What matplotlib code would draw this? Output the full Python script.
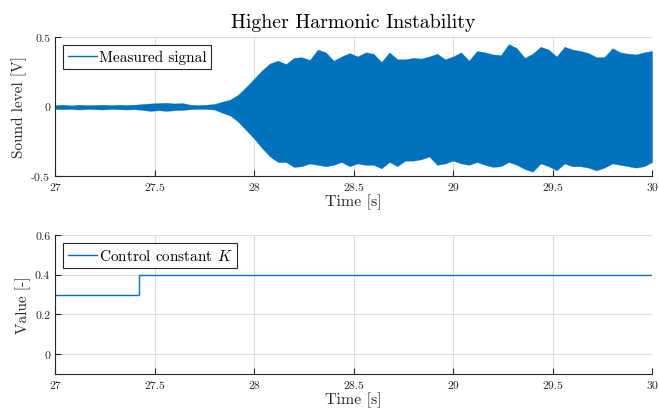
import numpy as np
import matplotlib
matplotlib.use("Agg")
import matplotlib.pyplot as plt

plt.rcParams['font.family'] = 'serif'
plt.rcParams['font.serif'] = ['cmr10']
plt.rcParams['mathtext.fontset'] = 'cm'
plt.rcParams['axes.unicode_minus'] = False

# measured sound signal, envelope (max / min per window) every 0.04 s
sig_t = [27.00, 27.04, 27.08, 27.12, 27.16, 27.20, 27.24, 27.28, 27.32, 27.36,
         27.40, 27.44, 27.48, 27.52, 27.56, 27.60, 27.64, 27.68, 27.72, 27.76,
         27.80, 27.84, 27.88, 27.92, 27.96, 28.00, 28.04, 28.08, 28.12, 28.16,
         28.20, 28.24, 28.28, 28.32, 28.36, 28.40, 28.44, 28.48, 28.52, 28.56,
         28.60, 28.64, 28.68, 28.72, 28.76, 28.80, 28.84, 28.88, 28.92, 28.96,
         29.00, 29.04, 29.08, 29.12, 29.16, 29.20, 29.24, 29.28, 29.32, 29.36,
         29.40, 29.44, 29.48, 29.52, 29.56, 29.60, 29.64, 29.68, 29.72, 29.76,
         29.80, 29.84, 29.88, 29.92, 29.96, 30.00]
sig_hi = [0.010, 0.013, 0.008, 0.013, 0.010, 0.011, 0.013, 0.010, 0.013, 0.011,
          0.013, 0.018, 0.022, 0.025, 0.027, 0.022, 0.025, 0.013, 0.010, 0.013,
          0.018, 0.035, 0.050, 0.085, 0.140, 0.200, 0.260, 0.310, 0.330, 0.305,
          0.350, 0.355, 0.335, 0.410, 0.390, 0.330, 0.360, 0.385, 0.360, 0.390,
          0.380, 0.320, 0.390, 0.340, 0.340, 0.350, 0.345, 0.360, 0.380, 0.340,
          0.360, 0.390, 0.330, 0.400, 0.390, 0.375, 0.370, 0.450, 0.420, 0.350,
          0.380, 0.430, 0.410, 0.360, 0.430, 0.410, 0.400, 0.385, 0.355, 0.355,
          0.420, 0.390, 0.380, 0.375, 0.390, 0.400]
sig_lo = [-0.018, -0.020, -0.018, -0.022, -0.018, -0.020, -0.022, -0.018, -0.020, -0.022,
          -0.020, -0.025, -0.032, -0.027, -0.032, -0.027, -0.025, -0.020, -0.018, -0.018,
          -0.022, -0.045, -0.065, -0.110, -0.170, -0.230, -0.300, -0.360, -0.400, -0.400,
          -0.435, -0.430, -0.410, -0.420, -0.430, -0.420, -0.400, -0.430, -0.410, -0.420,
          -0.420, -0.445, -0.400, -0.430, -0.390, -0.390, -0.380, -0.360, -0.420, -0.410,
          -0.390, -0.410, -0.420, -0.400, -0.420, -0.435, -0.430, -0.400, -0.420, -0.450,
          -0.470, -0.410, -0.430, -0.460, -0.410, -0.430, -0.430, -0.440, -0.460, -0.440,
          -0.410, -0.420, -0.430, -0.440, -0.430, -0.400]

# control constant K (step change)
k_t = [27.0, 27.42, 30.0]
k_val = [0.3, 0.4, 0.4]

x_ticks = [27, 27.5, 28, 28.5, 29, 29.5, 30]
x_labels = ['27', '27.5', '28', '28.5', '29', '29.5', '30']
y1_ticks = [-0.5, 0, 0.5]
y1_labels = ['-0.5', '0', '0.5']
y2_ticks = [0, 0.2, 0.4, 0.6]
y2_labels = ['0', '0.2', '0.4', '0.6']

blue = '#0072BD'
dark = '#262626'

fig = plt.figure(figsize=(6.59, 4.14), dpi=100)
ax1 = fig.add_axes([0.0835, 0.5725, 0.9060, 0.3357])
ax2 = fig.add_axes([0.0835, 0.0942, 0.9060, 0.3357])


def style(ax):
    for s in ['top', 'right']:
        ax.spines[s].set_visible(False)
    for s in ['left', 'bottom']:
        ax.spines[s].set_color(dark)
        ax.spines[s].set_linewidth(0.8)
    ax.tick_params(direction='in', length=4, width=0.8, color=dark,
                   labelcolor=dark, labelsize=8.5)
    ax.tick_params(axis='x', pad=5)
    ax.grid(True, color='#dcdcdc', linewidth=0.8)
    ax.set_axisbelow(True)
    ax.set_xlim(27, 30)
    ax.set_xticks(x_ticks)
    ax.set_xticklabels(x_labels)
    ax.set_xlabel('Time [s]', fontsize=11.5, color=dark, labelpad=1)


style(ax1)
ax1.fill_between(sig_t, sig_lo, sig_hi, color=blue, linewidth=0.2, edgecolor=blue)
ax1.plot([], [], color=blue, lw=1, label='Measured signal')
ax1.set_ylim(-0.5, 0.5)
ax1.set_yticks(y1_ticks)
ax1.set_yticklabels(y1_labels)
ax1.set_ylabel('Sound level [V]', fontsize=11, color=dark, labelpad=3)
ax1.set_title('Higher Harmonic Instability', fontsize=14.3, color='black', pad=7)

style(ax2)
ax2.plot(k_t, k_val, color=blue, lw=1, drawstyle='steps-post',
         label='Control constant $K$')
ax2.set_ylim(-0.1, 0.6)
ax2.set_yticks(y2_ticks)
ax2.set_yticklabels(y2_labels)
ax2.set_ylabel('Value [-]', fontsize=11, color=dark, labelpad=3)

for ax in (ax1, ax2):
    leg = ax.legend(loc='upper left', fontsize=11, fancybox=False,
                    framealpha=1, edgecolor=dark, handlelength=1.9,
                    handletextpad=0.1, borderpad=0.3, borderaxespad=0.55)
    leg.get_frame().set_linewidth(0.8)

fig.savefig('out.png', dpi=100)
